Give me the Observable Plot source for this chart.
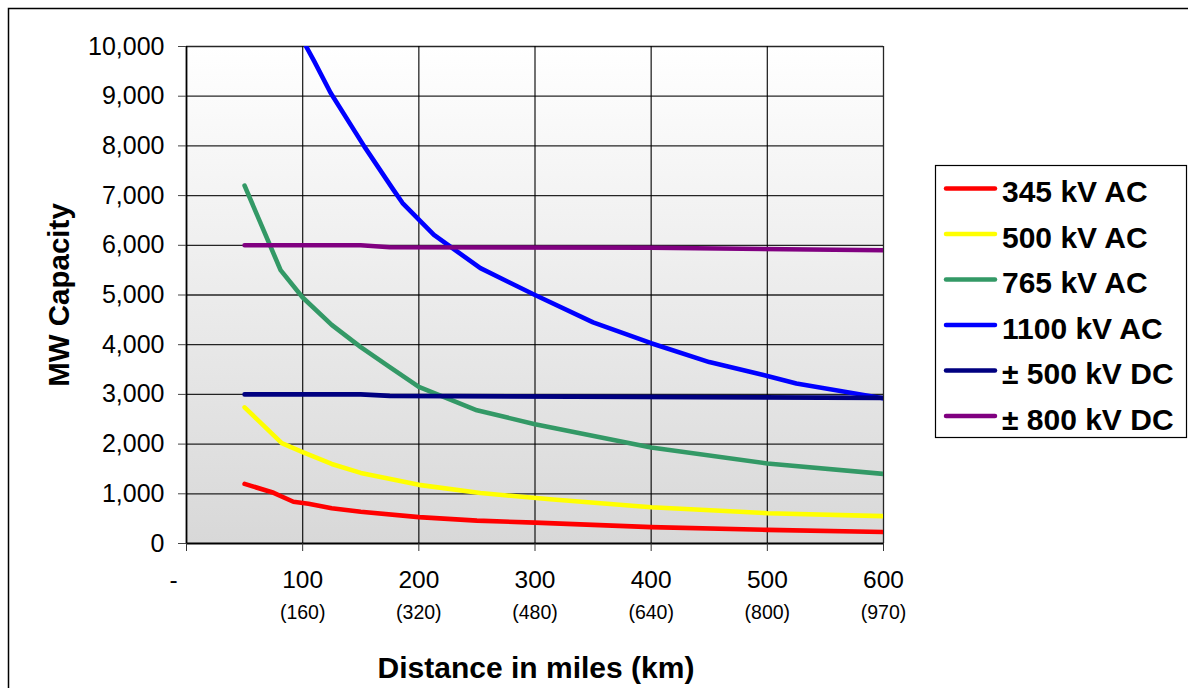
<!DOCTYPE html>
<html>
<head>
<meta charset="utf-8">
<script src="https://cdn.jsdelivr.net/npm/d3@7"></script>
<script src="https://cdn.jsdelivr.net/npm/@observablehq/plot@0.6"></script>
<style>
  html, body { margin: 0; padding: 0; background: #fff; }
  svg { display: block; }
</style>
</head>
<body>
<div id="chart"></div>
<script>
// ---- data ----
const seriesNames = ["345 kV AC", "500 kV AC", "765 kV AC", "1100 kV AC", "± 500 kV DC", "± 800 kV DC"];
const seriesColors = ["#ff0000", "#ffff00", "#339966", "#0000ff", "#000080", "#800080"];

const miles345 = [50, 75, 92, 105, 125, 150, 200, 250, 300, 400, 500, 600];
const mw345    = [1200, 1020, 840, 800, 710, 640, 530, 460, 420, 330, 275, 230];

const miles500 = [50, 82, 100, 125, 150, 200, 253, 313, 400, 500, 600];
const mw500    = [2740, 2020, 1840, 1600, 1420, 1180, 1015, 890, 730, 610, 550];

const miles765 = [50, 81, 100, 125, 150, 175, 200, 250, 300, 400, 500, 600];
const mw765    = [7200, 5500, 4950, 4400, 3950, 3550, 3150, 2680, 2400, 1930, 1610, 1400];

const miles1100 = [100, 103, 110, 124, 153, 178, 186, 213, 253, 300, 350, 400, 450, 500, 525, 600];
const mw1100    = [10500, 10000, 9700, 9070, 7990, 7120, 6850, 6210, 5540, 5000, 4450, 4030, 3650, 3370, 3220, 2920];

const milesDC500 = [50, 150, 175, 600];
const mwDC500    = [3000, 3000, 2970, 2930];

const milesDC800 = [50, 150, 175, 400, 600];
const mwDC800    = [6000, 6000, 5960, 5950, 5900];

const xTicks = [0, 100, 200, 300, 400, 500, 600];
const xTickLabels = ["-", "100", "200", "300", "400", "500", "600"];
const kmLabels = ["", "(160)", "(320)", "(480)", "(640)", "(800)", "(970)"];
const yTicks = [0, 1000, 2000, 3000, 4000, 5000, 6000, 7000, 8000, 9000, 10000];

// ---- build tables ----
const seriesX = [miles345, miles500, miles765, miles1100, milesDC500, milesDC800];
const seriesY = [mw345, mw500, mw765, mw1100, mwDC500, mwDC800];
const rows = [];
seriesNames.forEach((name, i) => {
  seriesX[i].forEach((m, j) => rows.push({series: name, miles: m, mw: seriesY[i][j]}));
});
const xLabelRows = xTicks.map((v, i) => ({v, label: xTickLabels[i], km: kmLabels[i]}));

const W = 1188, H = 688;
const font = "'Liberation Sans', Arial, Helvetica, sans-serif";

const plot = Plot.plot({
  width: W,
  height: H,
  marginLeft: 186,
  marginRight: 305,
  marginTop: 46,
  marginBottom: 145,
  style: {fontFamily: font, background: "transparent", overflow: "visible"},
  x: {type: "linear", domain: [0, 600], axis: null},
  y: {type: "linear", domain: [0, 10000], axis: null},
  color: {domain: seriesNames, range: seriesColors},
  marks: [
    Plot.frame({fill: "url(#bgGrad)", stroke: null}),
    Plot.gridY(yTicks.filter(d => d > 0), {stroke: "#000", strokeOpacity: 0.85, strokeWidth: 1.3}),
    Plot.gridX(xTicks.filter(d => d > 0), {stroke: "#000", strokeOpacity: 0.85, strokeWidth: 1.3}),
    // y axis
    Plot.ruleX([0], {stroke: "#000", strokeWidth: 1.8}),
    Plot.axisY(yTicks, {tickSize: 8, tickFormat: d3.format(","), fontSize: 25, tickPadding: 14, stroke: "#444", fill: "#000", label: null}),
    // x axis
    Plot.ruleY([0], {stroke: "#000", strokeWidth: 2}),
    Plot.axisX(xTicks, {tickSize: 8, tickFormat: () => "", stroke: "#333", label: null}),
    Plot.text(xLabelRows, {x: "v", y: 0, text: "label", dy: 37, fontSize: 24.5, fill: "#000"}),
    Plot.text(xLabelRows, {x: "v", y: 0, text: "km", dy: 69, fontSize: 19.5, fill: "#000"}),
    // data lines
    Plot.line(rows, {x: "miles", y: "mw", z: "series", stroke: "series", strokeWidth: 4.6, clip: true, curve: "linear", strokeLinejoin: "round"})
  ]
});

// gradient background
const svg = d3.select(plot);
const defs = svg.insert("defs", ":first-child");
const grad = defs.append("linearGradient").attr("id", "bgGrad").attr("x1", 0).attr("y1", 0).attr("x2", 0).attr("y2", 1);
grad.append("stop").attr("offset", "0%").attr("stop-color", "#ffffff");
grad.append("stop").attr("offset", "100%").attr("stop-color", "#d8d8d8");

// shift the "-" zero label left like the reference
svg.selectAll("text").filter(function() { return this.textContent === "-"; }).attr("dx", -13);

// outer border
svg.append("rect").attr("x", 8.5).attr("y", 8.5).attr("width", 1300).attr("height", 800)
  .attr("fill", "none").attr("stroke", "#000").attr("stroke-width", 1.5);

// axis titles
svg.append("text").attr("x", 536).attr("y", 678).attr("text-anchor", "middle")
  .attr("font-family", font).attr("font-weight", "bold").attr("font-size", 30).text("Distance in miles (km)");
svg.append("text").attr("transform", "translate(69,295) rotate(-90)").attr("text-anchor", "middle")
  .attr("font-family", font).attr("font-weight", "bold").attr("font-size", 29.5).text("MW Capacity");

// legend
const lg = svg.append("g");
lg.append("rect").attr("x", 935.5).attr("y", 165.5).attr("width", 251).attr("height", 272)
  .attr("fill", "#fff").attr("stroke", "#000").attr("stroke-width", 1.2);
seriesNames.forEach((name, i) => {
  const yy = 188.5 + i * 45.5;
  lg.append("line").attr("x1", 946).attr("x2", 995).attr("y1", yy).attr("y2", yy)
    .attr("stroke", seriesColors[i]).attr("stroke-width", 4.5).attr("stroke-linecap", "round");
  lg.append("text").attr("x", 1002).attr("y", yy + 13.5).attr("text-anchor", "start").attr("font-family", font).attr("font-weight", "bold")
    .attr("font-size", 30).attr("fill", "#000").text(name);
});

document.getElementById("chart").appendChild(plot);
</script>
</body>
</html>
